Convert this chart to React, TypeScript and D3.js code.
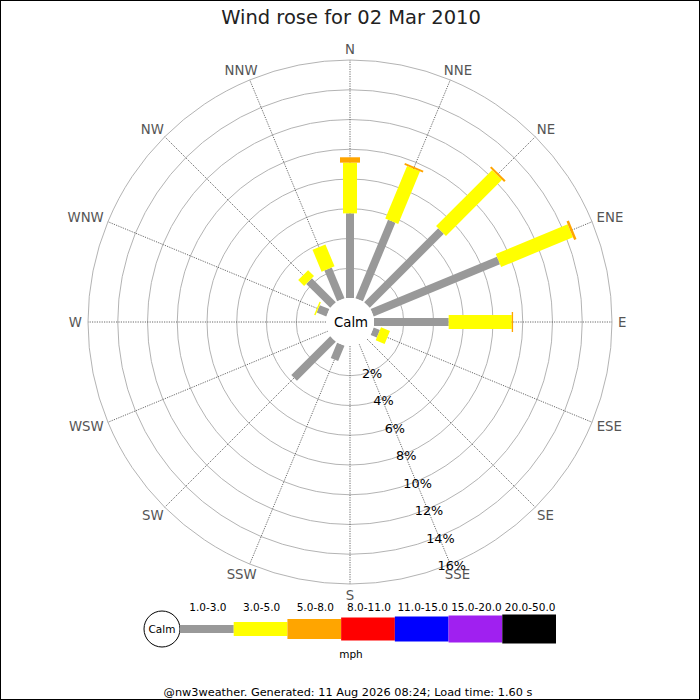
import React from "react";
import * as d3 from "d3";

const directions = ["N","NNE","NE","ENE","E","ESE","SE","SSE","S","SSW","SW","WSW","W","WNW","NW","NNW"];
const speedBins = ["1.0-3.0","3.0-5.0","5.0-8.0","8.0-11.0","11.0-15.0","15.0-20.0","20.0-50.0"];
const binColors = ["#999999","#ffff00","#ffa500","#ff0000","#0000ff","#a020f0","#000000"];
// percentage of time per direction, per speed bin
const bin1 = [5.69, 5.72, 7.04, 9.19, 5.02, 0.45, 0, 0, 0, 1.12, 3.7, 0, 0, 0.7, 2.28, 2.24];
const bin2 = [3.41, 3.83, 5.33, 5.23, 4.24, 0.65, 0, 0, 0, 0, 0, 0, 0, 0.1, 0.56, 1.6];
const bin3 = [0.36, 0.12, 0.14, 0.17, 0.09, 0, 0, 0, 0, 0, 0, 0, 0, 0, 0, 0];
const seriesValues = [bin1, bin2, bin3];
const ringTicks = [2, 4, 6, 8, 10, 12, 14, 16];
const titleText = "Wind rose for 02 Mar 2010";
const footerText = "@nw3weather. Generated: 11 Aug 2026 08:24; Load time: 1.60 s";
const unitText = "mph";

const W = 700, H = 700;
const cx = 350, cy = 322;
const calmR = 24, outerR = 262;
const barWidths = [8, 14, 20, 23, 25, 27, 29];
const font = "DejaVu Sans, Verdana, sans-serif";
const charW: Record<string, number> = { N: 0.748, E: 0.632, S: 0.635, W: 0.989 };

export default function App() {
  const r = d3.scaleLinear().domain([0, 16]).range([calmR, outerR]);
  const angle = d3.scalePoint<string>().domain(directions).range([0, 360 - 22.5]);
  const legendX = d3.scaleBand<string>().domain(speedBins).range([180, 556]);

  const rad = (deg: number) => (deg * Math.PI) / 180;

  const bars: JSX.Element[] = [];
  directions.forEach((dir, di) => {
    let cum = 0;
    seriesValues.forEach((vals, bi) => {
      const v = vals[di];
      if (v > 0) {
        const r0 = r(cum), r1 = r(cum + v);
        bars.push(
          <rect key={dir + bi}
            transform={`translate(${cx},${cy}) rotate(${angle(dir)})`}
            x={-barWidths[bi] / 2} y={-r1} width={barWidths[bi]} height={r1 - r0}
            fill={binColors[bi]} />
        );
      }
      cum += v;
    });
  });

  const labelSize = 13.3;
  const capH = labelSize * 0.73;

  return (
    <svg width={W} height={H} style={{ position: "absolute", left: 0, top: 0, background: "#fff" }}
      fontFamily={font}>
      <rect x={0} y={0} width={W} height={H} fill="#fff" />
      <text x={351} y={24} textAnchor="middle" fontSize={19.5} fill="#222">{titleText}</text>

      {/* rings */}
      {ringTicks.map(t => (
        <circle key={t} cx={cx} cy={cy} r={r(t)} fill="none" stroke="#aaaaaa" strokeWidth={0.9} />
      ))}
      {/* radial lines */}
      {directions.map(dir => {
        const a = rad(angle(dir)!);
        return (
          <line key={dir}
            x1={cx + calmR * Math.sin(a)} y1={cy - calmR * Math.cos(a)}
            x2={cx + outerR * Math.sin(a)} y2={cy - outerR * Math.cos(a)}
            stroke="#444" strokeWidth={0.8} strokeDasharray="1.2,1.2" />
        );
      })}
      {/* compass labels */}
      {directions.map(dir => {
        const a = rad(angle(dir)!);
        const s = Math.sin(a), c = Math.cos(a);
        const w = dir.split("").reduce((acc, ch) => acc + (charW[ch] || 0.7), 0) * labelSize;
        const px = cx + (outerR + 6) * s + (w / 2) * s;
        const py = cy - (outerR + 6) * c - (capH / 2) * c;
        return (
          <text key={dir} x={px} y={py + capH / 2} textAnchor="middle" fontSize={labelSize} fill="#555">{dir}</text>
        );
      })}

      {bars}

      <circle cx={cx} cy={cy} r={calmR} fill="#fff" />
      <text x={cx + 1} y={cy + 4.8} textAnchor="middle" fontSize={13.3} fill="#000">Calm</text>

      {/* percentage labels along SSE */}
      {ringTicks.map(t => {
        const a = rad(angle("SSE")!);
        const px = cx + r(t) * Math.sin(a) + 1.5;
        const py = cy - r(t) * Math.cos(a) + 1.5;
        return (
          <text key={t} x={px} y={py + 4.6} textAnchor="middle" fontSize={12.8} fill="#000">{t}%</text>
        );
      })}

      {/* legend */}
      <circle cx={162} cy={629} r={18} fill="#fff" stroke="#000" strokeWidth={1} />
      <text x={162} y={633} textAnchor="middle" fontSize={10.5} fill="#000">Calm</text>
      {speedBins.map((b, i) => (
        <g key={b}>
          <rect x={legendX(b)} y={629 - barWidths[i] / 2} width={legendX.bandwidth()} height={barWidths[i]} fill={binColors[i]} />
          <text x={legendX(b)! + legendX.bandwidth() / 2 + 1} y={611} textAnchor="middle" fontSize={10.5} fill="#000">{b}</text>
        </g>
      ))}
      <text x={351} y={658} textAnchor="middle" fontSize={10.5} fill="#000">{unitText}</text>
      <text x={348} y={696} textAnchor="middle" fontSize={11.3} fill="#000">{footerText}</text>

      <rect x={0.5} y={0.5} width={W - 1} height={H - 1} fill="none" stroke="#000" strokeWidth={1} />
    </svg>
  );
}
